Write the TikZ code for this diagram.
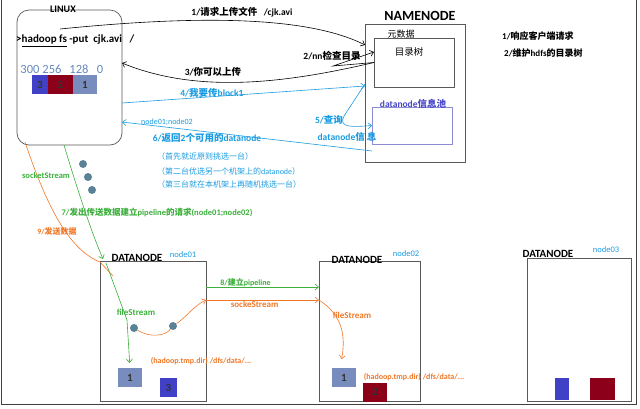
\documentclass[tikz,border=0pt]{standalone}
\usepackage{fontspec}
\setmainfont{Carlito}
\newfontfamily\cjk{Noto Sans CJK SC}
\usepackage{tikz}
\usetikzlibrary{arrows.meta,positioning,calc}
\definecolor{skyblue}{RGB}{25,155,225}
\definecolor{leaf}{RGB}{60,175,60}
\definecolor{tangerine}{RGB}{240,120,40}
\definecolor{poolblue}{RGB}{70,70,200}
\definecolor{poolline}{RGB}{140,140,210}
\definecolor{steel}{RGB}{120,140,190}
\definecolor{royal}{RGB}{65,65,200}
\definecolor{wine}{RGB}{140,0,25}
\definecolor{numblue}{RGB}{100,135,190}
\definecolor{dotgray}{RGB}{90,130,150}
\newcommand{\zh}[1]{{\cjk #1}}
\newcommand{\sz}[1]{\fontsize{#1}{#1}\selectfont}

\begin{document}
\begin{tikzpicture}[x=1pt,y=-1pt,
      box/.style={draw=black!65, line width=0.7pt, inner sep=0pt, outer sep=0pt},
      title/.style={font=\bfseries\sz{11}, inner sep=0pt},
      tag/.style={font=\sz{8.5}, text=skyblue, inner sep=0pt},
      lbl/.style={font=\bfseries\sz{9.5}, inner sep=1pt},
      small/.style={font=\bfseries\sz{8.5}, inner sep=1pt},
      note/.style={font=\sz{8}, text=skyblue, anchor=west, inner sep=0pt},
      blk/.style={minimum height=19pt, inner sep=0pt, outer sep=0pt, font=\bfseries\sz{11}, text=black!80},
      dot/.style={circle, fill=dotgray, minimum size=8pt, inner sep=0pt},
      num/.style={text=numblue, font=\sz{12.5}, inner sep=0pt},
      arr/.style={-{Straight Barb[length=3.5pt,width=6pt]}, line width=0.6pt}
    ]
      \useasboundingbox (0,0) rectangle (640,408);
      \draw[black!75, line width=0.8pt] (1,0) -- (1,404) -- (636,404) -- (636,0);

      % client side
      \node[box, rounded corners=12pt, minimum width=105pt, minimum height=135pt] (linux) at (69.5,77.5) {};
      \node[font=\bfseries\sz{10}, inner sep=0pt] (linuxtitle) at (63,9) {LINUX};
      \node[font=\bfseries\sz{11}, anchor=west, inner sep=0pt] (cmd) at (16,41) {\textgreater\underline{hadoop fs}~-put~~cjk.avi~~~/};
      \foreach \v/\x in {300/30,256/52,128/79,0/100}
        \node[num] (n\v) at (\x,69) {\v};
      \node[blk, fill=royal, minimum width=16pt] (l3) at (40,84.5) {3};
      \node[blk, fill=wine, minimum width=25pt, right=0pt of l3] (l2) {2};
      \node[blk, fill=steel, minimum width=24pt, right=0pt of l2] (l1) {1};

      % namenode
      \node[box, minimum width=100pt, minimum height=138pt] (namenode) at (415,93) {};
      \node[font=\bfseries\sz{14}, inner sep=0pt] (nntitle) at (420,16) {NAMENODE};
      \node[font=\sz{9}, inner sep=0pt] (meta) at (401,34) {\zh{元数据}};
      \node[box, minimum width=80pt, minimum height=49pt] (dirtree) at (414,62.5) {};
      \node[font=\sz{9.5}, inner sep=0pt] (treetext) at (409,52) {\zh{目录树}};
      \node[draw=poolline, line width=0.7pt, inner sep=0pt, outer sep=0pt, minimum width=80pt, minimum height=37pt] (pool) at (412,125.5) {};
      \node[font=\bfseries\sz{9.5}, text=poolblue, inner sep=0pt] (pooltitle) at (413,104) {datanode\zh{信息池}};
      \node[lbl, anchor=west, font=\bfseries\sz{9}] (duty1) at (501,36) {1/\zh{响应客户端请求}};
      \node[lbl, anchor=west, font=\bfseries\sz{9}] (duty2) at (503,53) {2/\zh{维护}hdfs\zh{的目录树}};

      % datanodes
      \node[box, minimum width=106pt, minimum height=140pt] (dn1) at (153,331) {};
      \node[box, minimum width=101pt, minimum height=140pt] (dn2) at (369.5,331) {};
      \node[box, minimum width=104pt, minimum height=143pt] (dn3) at (579,329.5) {};
      \node[title] (dn1title) at (137,257.5) {DATANODE};
      \node[title] (dn2title) at (357,259.5) {DATANODE};
      \node[title] (dn3title) at (548,254) {DATANODE};
      \node[tag] (tag1) at (183,255) {node01};
      \node[tag] (tag2) at (406,254) {node02};
      \node[tag] (tag3) at (606,250) {node03};
      \node[blk, fill=steel, minimum width=24pt] (b11) at (130,377.5) {1};
      \node[blk, fill=royal, minimum width=17pt] (b13) at (168.5,387.5) {3};
      \node[blk, fill=steel, minimum width=24pt] (b21) at (344,377.5) {1};
      \node[blk, fill=wine, minimum width=24pt] (b22) at (375,392) {2};
      \node[blk, fill=royal, minimum width=14pt, minimum height=22pt] (b33) at (562,389) {};
      \node[blk, fill=wine, minimum width=25pt, minimum height=22pt] (b32) at (602.5,389) {};

      % 1 - 3
      \coordinate (req) at (60,29);
      \coordinate (chk) at (333,66);
      \draw[arr] (req) .. controls (170,18) and (300,12) .. ($(namenode.north west)+(0,21)$);
      \node[lbl] (s1) at (242,12) {1/\zh{请求上传文件}~~~/cjk.avi};
      \draw[arr] (dirtree.west) -- (chk) -- ($(dirtree.north west)+(0,14)$);
      \node[lbl] (s2) at (332,56) {2/nn\zh{检查目录}};
      \draw[arr] (dirtree.west) .. controls (290,82) and (200,95) .. ($(linux.north east)+(0,53)$);
      \node[lbl] (s3) at (213,72) {3/\zh{你可以上传}};

      % 4 - 6
      \draw[arr, skyblue] ($(linux.north east)+(0,93)$) -- node[lbl, above=-2pt, pos=0.37] {4/\zh{我要传}block1} ($(namenode.north west)+(0,62)$);
      \draw[arr, skyblue] ($(namenode.north west)+(0,60)$) -- (344,116) .. controls (338,128) and (352,127) .. (pool.west);
      \node[lbl, text=skyblue] (s5) at (329,120) {5/\zh{查询}};
      \node[lbl, text=skyblue] (s5b) at (347,137) {datanode\zh{信}~\zh{息}};
      \coordinate (ret) at (372,151);
      \draw[arr, skyblue] (ret) -- ($(linux.north east)+(0,112)$);
      \node[tag, font=\sz{8}] (pick) at (167,122) {node01;node02};
      \node[lbl, text=skyblue] (s6) at (207,138) {6/\zh{返回}2\zh{个可用的}datanode};
      \node[note] (rule1) at (157,156) {\zh{（首先就近原则挑选一台）}};
      \node[note] (rule2) at (157,171) {\zh{（第二台优选另一个机架上的}datanode\zh{）}};
      \node[note] (rule3) at (157,184) {\zh{（第三台就在本机架上再随机挑选一台）}};
      \foreach \i/\x/\y in {1/83/164,2/88/177,3/92/190}
        \node[dot] (p\i) at (\x,\y) {};

      % 7 - 9
      \node[small, text=leaf] (sock) at (46,176) {socketStream};
      \draw[arr, leaf] ($(linux.south west)+(47,0)$) .. controls (85,215) and (97,245) .. ($(dn1.north west)+(3,-2)$);
      \node[small, text=leaf] (s7) at (157,212) {7/\zh{发出传送数据建立}pipeline\zh{的请求}(node01;node02)};
      \draw[tangerine, line width=0.6pt] ($(linux.south west)+(8,-3)$) .. controls (48,210) and (70,250) .. ($(dn1.north west)+(0,1)$) -- (113,276);
      \node[small, text=tangerine, font=\bfseries\sz{8}] (s9) at (57,231) {9/\zh{发送数据}};
      \node[dot] (d1) at (134,328) {};
      \node[dot] (d2) at (173,326) {};
      \draw[arr, leaf, shorten >=5pt] ($(dn1.north west)+(6,2)$) -- (127,320) -- (b11.north);
      \node[small, text=leaf, font=\bfseries\sz{9}] (fs1) at (136,312) {fileStream};
      \draw[arr, tangerine] (d1) .. controls (150,338) and (165,336) .. (d2) .. controls (185,318) and (195,305) .. ($(dn1.north east)+(0,39)$);
      \draw[arr, leaf] ($(dn1.north east)+(0,26)$) -- node[small, above=-1pt, pos=0.35, font=\bfseries\sz{8}] {8/\zh{建立}pipeline} ($(dn2.north west)+(0,26)$);
      \draw[arr, tangerine] ($(dn1.north east)+(0,39)$) -- node[small, below=0pt, pos=0.43, font=\bfseries\sz{9}] {sockeStream} ($(dn2.north west)+(0,39)$);
      \draw[arr, tangerine, shorten >=9pt] ($(dn2.north west)+(0,39)$) .. controls (342,315) and (346,335) .. ($(b21.north)+(-4,0)$);
      \node[small, text=tangerine, font=\bfseries\sz{9}] (fs2) at (352,315) {fileStream};
      \node[small, text=tangerine, font=\bfseries\sz{8}] (dir1) at (201,361) {(hadoop.tmp.dir) /dfs/data/...};
      \node[small, text=tangerine, font=\bfseries\sz{8}] (dir2) at (414,377) {(hadoop.tmp.dir) /dfs/data/...};
    \end{tikzpicture}
\end{document}
